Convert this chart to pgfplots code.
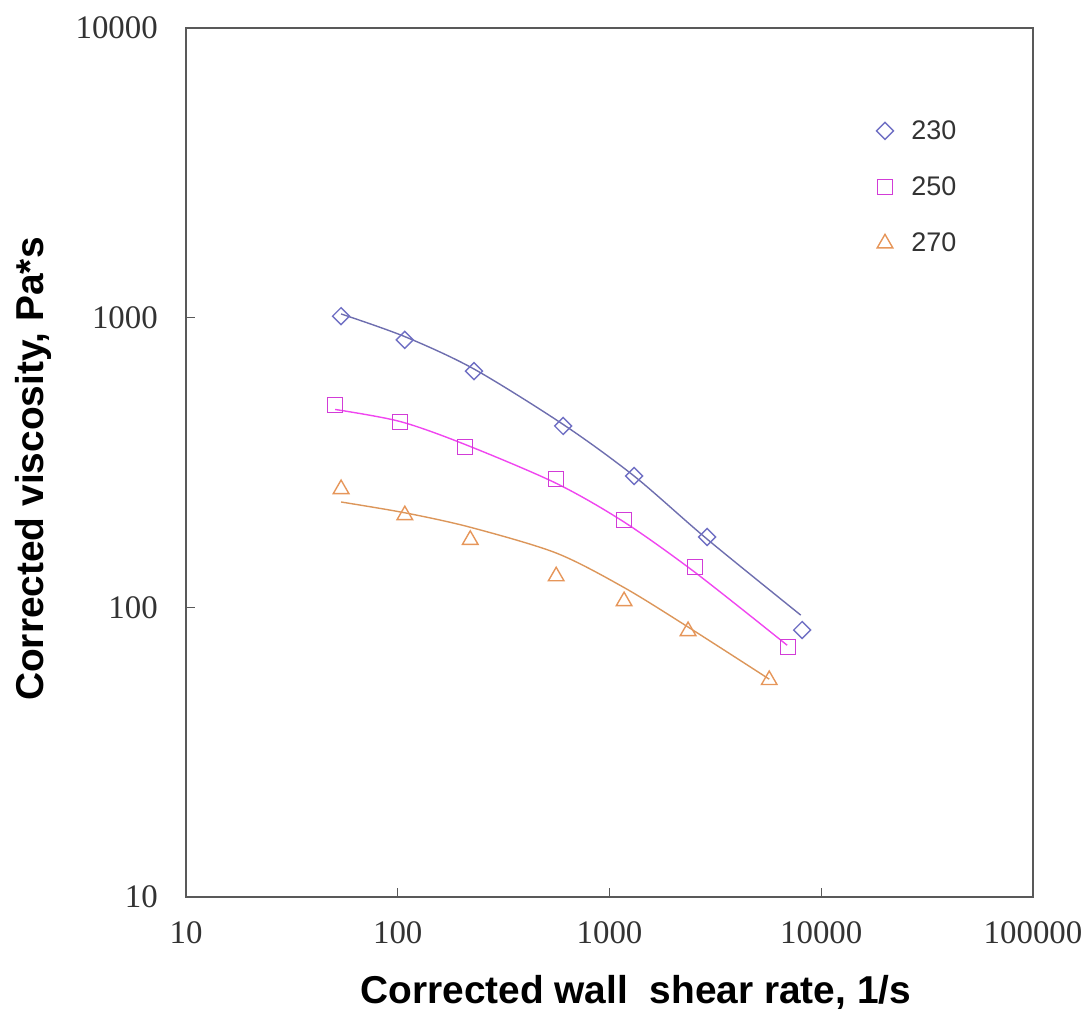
\documentclass[border=0pt]{standalone}
\usepackage{fontspec}
\setmainfont{Liberation Serif}
\newfontfamily\arial{Liberation Sans}
\usepackage{pgfplots}
\pgfplotsset{compat=1.18}

\definecolor{c230}{RGB}{112,112,196}
\definecolor{l230}{RGB}{110,110,175}
\definecolor{c250}{RGB}{210,60,215}
\definecolor{l250}{RGB}{240,70,240}
\definecolor{c270}{RGB}{230,150,90}
\definecolor{l270}{RGB}{220,150,90}

\begin{document}
\begin{tikzpicture}
\path[use as bounding box] (0,0) rectangle (1089bp,1019bp);
\begin{axis}[
    at={(186bp,122bp)}, anchor=south west,
    scale only axis,
    width=847bp,
    height=869bp,
    xmode=log, ymode=log,
    xmin=10, xmax=100000,
    ymin=10, ymax=10000,
    xtick={10,100,1000,10000,100000},
    xticklabels={10,100,1000,10000,100000},
    ytick={10,100,1000,10000},
    yticklabels={10,100,1000,10000},
    xminorticks=false, yminorticks=false,
    tick align=inside,
    tick pos=left,
    major tick length=9bp,
    axis line style={draw=black!65, line width=1.8bp},
    every tick/.style={black!65, line width=1.3bp},
    ticklabel style={font=\fontsize{33}{36}\selectfont, text=black!80, inner sep=0pt},
    xticklabel style={anchor=base, yshift=-47bp},
    yticklabel style={anchor=east, xshift=-28bp},
    xlabel={\arial\bfseries Corrected wall\ \ shear rate, 1/s},
    ylabel={\arial\bfseries Corrected viscosity, Pa*s},
    xlabel style={font=\fontsize{39}{44}\selectfont, at={(axis description cs:0.531,-0.122)}, anchor=base},
    ylabel style={font=\fontsize{39}{44}\selectfont, at={(axis description cs:-0.1677,0.4925)}, anchor=base},
    legend style={draw=none, fill=none, inner sep=0pt, nodes={inner sep=0pt},
        at={(axis description cs:0.815,0.8936)}, anchor=north west,
        font=\arial\fontsize{27}{30}\selectfont, text=black!80,
        row sep=36bp, column sep=18bp},
    legend cell align=left,
]

% fitted curves
\addplot[l230, line width=1.4bp, smooth, forget plot] coordinates {
    (54,1030) (108,860) (229,665) (604,428) (1306,284) (2890,172) (8000,94)
};
\addplot[l250, line width=1.4bp, smooth, forget plot] coordinates {
    (50.6,482) (102.6,438) (208,365) (560,268) (1172,197) (2535,132) (6900,74)
};
\addplot[l270, line width=1.4bp, smooth, forget plot] coordinates {
    (54,231) (108,212) (220,189) (560,154) (1172,117) (2350,85.5) (5680,56.5)
};

% measured points
\addplot[only marks, mark=square, mark size=6bp, c230, mark options={rotate=45, line width=1.4bp}] coordinates {
    (54,1012) (108,838) (229,654) (604,423) (1306,284) (2890,175) (8130,83.5)
};
\addlegendentry{230}
\addplot[only marks, mark=square, mark size=7.5bp, c250, mark options={line width=1.4bp}] coordinates {
    (50.6,499) (102.6,436) (208,357) (560,277) (1172,200) (2535,138) (6980,73)
};
\addlegendentry{250}
\addplot[only marks, mark=triangle, mark size=9bp, c270, mark options={line width=1.4bp}] coordinates {
    (54,256) (108,208) (220,171) (560,128) (1172,105) (2350,82.8) (5680,56.1)
};
\addlegendentry{270}

\end{axis}
\end{tikzpicture}
\end{document}
